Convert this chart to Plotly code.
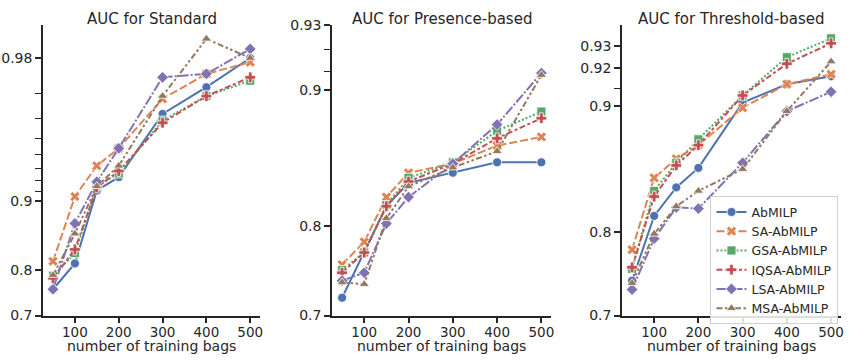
import numpy as np
import plotly.graph_objects as go

bags = [50, 100, 150, 200, 300, 400, 500]
methods = ["AbMILP", "SA-AbMILP", "GSA-AbMILP", "IQSA-AbMILP", "LSA-AbMILP", "MSA-AbMILP"]

std_ab = [0.761, 0.812, 0.911, 0.923, 0.962, 0.972, 0.980]
std_sa = [0.816, 0.905, 0.932, 0.944, 0.968, 0.976, 0.979]
std_gsa = [0.789, 0.830, 0.915, 0.926, 0.959, 0.969, 0.974]
std_iqsa = [0.784, 0.836, 0.914, 0.928, 0.958, 0.969, 0.975]
std_lsa = [0.761, 0.874, 0.919, 0.944, 0.975, 0.976, 0.982]
std_msa = [0.790, 0.860, 0.915, 0.932, 0.969, 0.984, 0.980]

pre_ab = [0.722, 0.773, 0.818, 0.838, 0.846, 0.854, 0.854]
pre_sa = [0.760, 0.784, 0.826, 0.846, 0.853, 0.866, 0.872]
pre_gsa = [0.754, 0.773, 0.819, 0.842, 0.854, 0.876, 0.888]
pre_iqsa = [0.751, 0.773, 0.818, 0.839, 0.853, 0.871, 0.884]
pre_lsa = [0.742, 0.751, 0.802, 0.826, 0.853, 0.880, 0.909]
pre_msa = [0.740, 0.738, 0.807, 0.835, 0.850, 0.862, 0.908]

thr_ab = [0.745, 0.816, 0.842, 0.858, 0.902, 0.912, 0.916]
thr_sa = [0.781, 0.850, 0.865, 0.875, 0.899, 0.912, 0.917]
thr_gsa = [0.759, 0.839, 0.862, 0.879, 0.906, 0.925, 0.933]
thr_iqsa = [0.761, 0.834, 0.860, 0.875, 0.906, 0.922, 0.931]
thr_lsa = [0.734, 0.793, 0.824, 0.823, 0.862, 0.897, 0.908]
thr_msa = [0.742, 0.798, 0.825, 0.839, 0.857, 0.897, 0.923]

titles = ["AUC for Standard", "AUC for Presence-based", "AUC for Threshold-based"]
x_label = "number of training bags"
x_ticks = [100, 200, 300, 400, 500]
y_ticks_std = [0.7, 0.8, 0.9, 0.98]
y_ticks_pre = [0.7, 0.8, 0.9, 0.93]
y_ticks_thr = [0.7, 0.8, 0.9, 0.92, 0.93]
y_minor_std = [0.91, 0.92, 0.93, 0.94, 0.95, 0.96, 0.97]
y_minor_pre = [0.91, 0.92]
y_minor_thr = [0.91]
y_lims = [(0.7, 0.9863), (0.7, 0.93), (0.7, 0.938)]

panels = [
    [std_ab, std_sa, std_gsa, std_iqsa, std_lsa, std_msa],
    [pre_ab, pre_sa, pre_gsa, pre_iqsa, pre_lsa, pre_msa],
    [thr_ab, thr_sa, thr_gsa, thr_iqsa, thr_lsa, thr_msa],
]
y_ticks_all = [y_ticks_std, y_ticks_pre, y_ticks_thr]
y_minor_all = [y_minor_std, y_minor_pre, y_minor_thr]

colors = ["#4C72B0", "#DD8452", "#55A868", "#C44E52", "#8172B3", "#937860"]
symbols = ["circle", "x", "square", "cross", "diamond", "triangle-up"]
dashes = ["solid", "8px,3px", "2px,2px", "6px,2.5px,3px,2.5px",
          "10px,2px,2px,2px", "6px,2.5px,2.5px,2.5px,2.5px,2.5px"]


def logit(v):
    v = np.asarray(v, dtype=float)
    return np.log10(v / (1 - v))


W, H = 850, 364
x_doms = [(43.3, 261), (333.3, 553.3), (624.3, 844)]
y_top, y_bot = 18.3, 321.7
ink = "#262626"
FONT = "DejaVu Sans"

fig = go.Figure()
for p, series in enumerate(panels):
    xa = "x" if p == 0 else f"x{p+1}"
    ya = "y" if p == 0 else f"y{p+1}"
    for i, vals in enumerate(series):
        fig.add_trace(go.Scatter(
            x=bags, y=logit(vals), xaxis=xa, yaxis=ya,
            mode="lines+markers", name=methods[i],
            legendgroup=methods[i], showlegend=(p == 2),
            line=dict(color=colors[i], width=2, dash=dashes[i]),
            marker=dict(symbol=symbols[i], size=9, color=colors[i],
                        line=dict(color="white", width=0.8)),
        ))

layout = dict(
    width=W, height=H, margin=dict(l=0, r=0, t=0, b=0),
    paper_bgcolor="white", plot_bgcolor="white",
    font=dict(family=FONT, size=13, color=ink),
    legend=dict(x=713 / W, y=1 - 197 / H, xanchor="left", yanchor="top",
                bgcolor="rgba(255,255,255,0.85)", bordercolor="#d0d0d0",
                borderwidth=1, font=dict(size=12.5, family=FONT, color=ink),
                tracegroupgap=0, itemwidth=30),
    annotations=[],
)
for p in range(3):
    xk = "xaxis" if p == 0 else f"xaxis{p+1}"
    yk = "yaxis" if p == 0 else f"yaxis{p+1}"
    xa_ref = "x" if p == 0 else f"x{p+1}"
    ya_ref = "y" if p == 0 else f"y{p+1}"
    x0, x1 = x_doms[p]
    layout[xk] = dict(
        domain=[x0 / W, x1 / W], anchor=ya_ref, range=[27.5, 522.5],
        tickmode="array", tickvals=x_ticks, ticktext=[str(t) for t in x_ticks],
        showline=True, linecolor=ink, linewidth=1.8, ticks="outside",
        ticklen=6, tickwidth=1.8, tickcolor=ink, showgrid=False, zeroline=False,
        tickfont=dict(size=13.5, family=FONT, color=ink), ticklabelstandoff=-3,
    )
    lo, hi = y_lims[p]
    yt = y_ticks_all[p]
    layout[yk] = dict(
        domain=[1 - y_bot / H, 1 - y_top / H], anchor=xa_ref,
        range=[float(logit(lo)), float(logit(hi))],
        tickmode="array", tickvals=list(logit(yt)), ticktext=[f"{t:g}" for t in yt],
        showline=True, linecolor=ink, linewidth=1.8, ticks="outside",
        ticklen=6, tickwidth=1.8, tickcolor=ink, showgrid=False, zeroline=False,
        tickfont=dict(size=14, family=FONT, color=ink),
        minor=dict(tickmode="array", tickvals=list(logit(y_minor_all[p])),
                   ticks="outside", ticklen=6, tickwidth=1.2, tickcolor=ink,
                   showgrid=False),
    )
    layout["annotations"].append(dict(
        text=titles[p], xref="paper", yref="paper",
        x=(x0 + x1) / 2 / W, y=1 - 11 / H, xanchor="center", yanchor="middle",
        showarrow=False, font=dict(size=15, family=FONT, color=ink),
    ))
    layout["annotations"].append(dict(
        text=x_label, xref="paper", yref="paper",
        x=(x0 + x1) / 2 / W, y=1 - 354 / H, xanchor="center", yanchor="middle",
        showarrow=False, font=dict(size=14, family=FONT, color=ink),
    ))

fig.update_layout(**layout)
fig.write_html(
    "out.html",
    config={"displayModeBar": False},
    post_script="document.body.style.margin='0px';document.body.style.overflow='hidden';",
)
